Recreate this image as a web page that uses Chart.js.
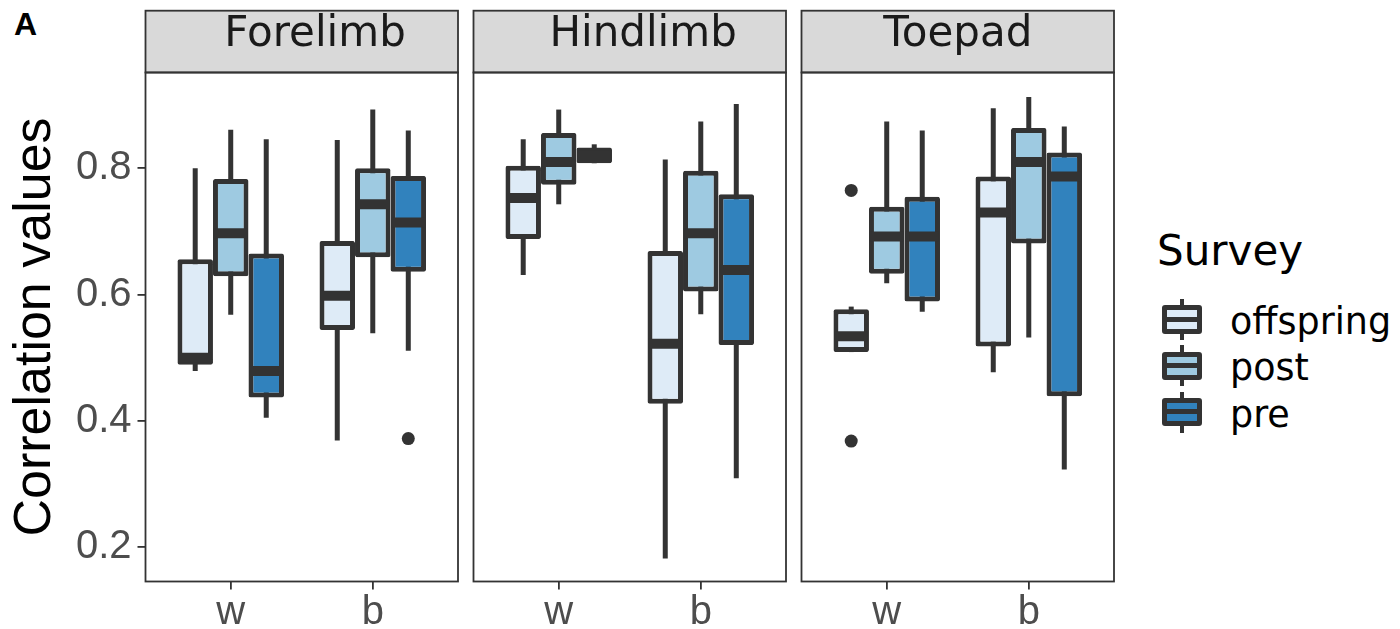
<!DOCTYPE html>
<html>
<head>
<meta charset="utf-8">
<script src="https://cdn.jsdelivr.net/npm/chart.js@4.4.0/dist/chart.umd.min.js"></script>
<style>
  body { margin:0; width:1400px; height:629px; background:#fff; position:relative; overflow:hidden; }
  canvas { position:absolute; top:0; }
  #tag { position:absolute; left:14px; top:8px; font:bold 32px/1 "Liberation Sans", Arial, sans-serif; color:#000; }
  #legend { position:absolute; left:0; top:0; font-family:"DejaVu Sans", sans-serif; color:#000; }
  #legend .title { position:absolute; left:1157px; top:229.5px; font-size:42px; line-height:1; white-space:nowrap; }
  #legend .lab { position:absolute; left:1230px; font-size:36.5px; line-height:1; white-space:nowrap; }
  .key { position:absolute; left:1161.5px; width:40px; height:41px; }
  .key .wh { position:absolute; left:18px; top:0; width:4px; height:41px; background:#333; }
  .key .bx { position:absolute; left:0; top:6.25px; width:40px; height:28.5px; box-sizing:border-box; border:5.5px solid #333; border-radius:3px; }
  .key .md { position:absolute; left:0; right:0; top:6.25px; height:5px; background:#333; }
</style>
</head>
<body>
<div id="tag">A</div>
<canvas id="c0" width="470" height="629" style="left:0px"></canvas>
<canvas id="c1" width="333" height="629" style="left:463px"></canvas>
<canvas id="c2" width="333" height="629" style="left:791px"></canvas>
<div id="legend"></div>
<script>
// facets, groups and x categories
const panels = ['  Forelimb', '  Hindlimb', 'Toepad'];
const surveys = ['offspring', 'post', 'pre'];
const sites = ['w', 'b'];
const sitePos = [1, 2];
const yTicks = [0.2, 0.4, 0.6, 0.8];
const fills = ['#DEEBF7', '#9ECAE1', '#3182BD'];

// box stats per site [w, b]: [lower whisker, q1, median, q3, upper whisker]
const foreOffspring = [[0.479, 0.489, 0.500, 0.656, 0.800], [0.369, 0.544, 0.598, 0.685, 0.845]];
const forePost      = [[0.568, 0.629, 0.697, 0.783, 0.861], [0.539, 0.659, 0.743, 0.800, 0.893]];
const forePre       = [[0.405, 0.437, 0.479, 0.665, 0.846], [0.511, 0.636, 0.714, 0.788, 0.860]];
const hindOffspring = [[0.631, 0.688, 0.753, 0.804, 0.846], [0.182, 0.427, 0.522, 0.669, 0.814]];
const hindPost      = [[0.743, 0.774, 0.810, 0.856, 0.893], [0.569, 0.605, 0.697, 0.796, 0.874]];
const hindPre       = [[0.808, 0.808, 0.820, 0.833, 0.838], [0.309, 0.520, 0.639, 0.759, 0.902]];
const toeOffspring  = [[0.509, 0.509, 0.534, 0.577, 0.581], [0.477, 0.518, 0.730, 0.787, 0.895]];
const toePost       = [[0.618, 0.633, 0.692, 0.739, 0.874], [0.532, 0.681, 0.810, 0.864, 0.913]];
const toePre        = [[0.573, 0.589, 0.692, 0.755, 0.860], [0.323, 0.439, 0.787, 0.825, 0.866]];

// outliers, [survey][site]
const foreOutliers = [[[], []], [[], []], [[], [0.372]]];
const hindOutliers = [[[], []], [[], []], [[], []]];
const toeOutliers  = [[[0.765, 0.368], []], [[], []], [[], []]];

const panelStats = [
  [foreOffspring, forePost, forePre],
  [hindOffspring, hindPost, hindPre],
  [toeOffspring, toePost, toePre]
];
const panelOutliers = [foreOutliers, hindOutliers, toeOutliers];

const yMin = 0.1457, yMax = 0.9517;
const stripTop = 10.7;
const dark = '#333333';

// strip box, whiskers, medians, outliers and panel frame
const boxParts = {
  id: 'boxParts',
  beforeDraw(chart) {
    const a = chart.chartArea, ctx = chart.ctx;
    ctx.save();
    ctx.fillStyle = '#D9D9D9';
    ctx.fillRect(a.left, stripTop, a.right - a.left, a.top - stripTop);
    ctx.strokeStyle = dark;
    ctx.lineWidth = 1.8;
    ctx.strokeRect(a.left, stripTop, a.right - a.left, a.top - stripTop);
    ctx.restore();
  },
  beforeDatasetsDraw(chart) {
    const ctx = chart.ctx, y = chart.scales.y;
    ctx.save();
    ctx.strokeStyle = dark;
    ctx.lineWidth = 5;
    chart.data.datasets.forEach((ds, i) => {
      chart.getDatasetMeta(i).data.forEach((bar, j) => {
        const s = ds.stats[j];
        ctx.beginPath();
        ctx.moveTo(bar.x, y.getPixelForValue(s[0]));
        ctx.lineTo(bar.x, y.getPixelForValue(s[4]));
        ctx.stroke();
      });
    });
    ctx.restore();
  },
  afterDatasetsDraw(chart) {
    const ctx = chart.ctx, y = chart.scales.y, a = chart.chartArea;
    ctx.save();
    ctx.strokeStyle = dark;
    ctx.fillStyle = dark;
    chart.data.datasets.forEach((ds, i) => {
      chart.getDatasetMeta(i).data.forEach((bar, j) => {
        const s = ds.stats[j];
        const half = bar.width / 2 - 1;
        ctx.lineWidth = 10;
        ctx.beginPath();
        ctx.moveTo(bar.x - half, y.getPixelForValue(s[2]));
        ctx.lineTo(bar.x + half, y.getPixelForValue(s[2]));
        ctx.stroke();
        ds.outliers[j].forEach(v => {
          ctx.beginPath();
          ctx.arc(bar.x, y.getPixelForValue(v), 6.5, 0, Math.PI * 2);
          ctx.fill();
        });
      });
    });
    ctx.lineWidth = 1.8;
    ctx.strokeRect(a.left, a.top, a.right - a.left, a.bottom - a.top);
    ctx.restore();
  }
};

function makePanel(p) {
  const first = p === 0;
  const datasets = surveys.map((name, k) => ({
    label: name,
    data: sitePos.map((x, j) => ({ x: x, y: [panelStats[p][k][j][1], panelStats[p][k][j][3]] })),
    stats: panelStats[p][k],
    outliers: panelOutliers[p][k],
    backgroundColor: fills[k],
    borderColor: dark,
    borderWidth: 5,
    borderSkipped: false,
    borderRadius: 2,
    categoryPercentage: 0.75,
    barPercentage: 1
  }));
  return new Chart(document.getElementById('c' + p), {
    type: 'bar',
    data: { datasets: datasets },
    plugins: [boxParts],
    options: {
      responsive: false,
      animation: false,
      devicePixelRatio: 1,
      layout: { padding: first ? { left: 0, right: 12, top: 9.5, bottom: 0 } : { left: 10.5, right: 10, top: 9.5, bottom: 0 } },
      plugins: {
        legend: { display: false },
        tooltip: { enabled: false },
        title: {
          display: true,
          text: panels[p],
          fullSize: false,
          color: '#1A1A1A',
          font: { family: 'DejaVu Sans', size: 42, weight: 'normal', lineHeight: 1.2 },
          padding: { top: 0, bottom: 12.6 }
        }
      },
      scales: {
        x: {
          type: 'linear',
          min: 0.4,
          max: 2.6,
          offset: false,
          afterBuildTicks: s => { s.ticks = sitePos.map(v => ({ value: v })); },
          afterFit: s => { s.height = 47.5; },
          ticks: {
            callback: (v, i) => sites[i],
            color: '#4D4D4D',
            padding: 1,
            maxRotation: 0,
            font: { family: 'Liberation Sans', size: 40, lineHeight: 1.1 }
          },
          grid: { display: true, offset: false, drawOnChartArea: false, drawTicks: true, tickLength: 8, color: dark, lineWidth: 1.8 },
          border: { display: false }
        },
        y: {
          display: first,
          min: yMin,
          max: yMax,
          beginAtZero: false,
          afterBuildTicks: s => { s.ticks = yTicks.map(v => ({ value: v })); },
          afterFit: s => { s.width = first ? 145.5 : 0; },
          ticks: {
            callback: v => v.toFixed(1),
            color: '#4D4D4D',
            padding: 6,
            font: { family: 'Liberation Sans', size: 40, lineHeight: 1.2 }
          },
          grid: { display: true, drawOnChartArea: false, drawTicks: true, tickLength: 8, color: dark, lineWidth: 1.8 },
          border: { display: false },
          title: {
            display: true,
            text: 'Correlation values',
            color: '#000',
            font: { family: 'Liberation Sans', size: 52, lineHeight: 1.2 },
            padding: { top: 4, bottom: 0 }
          }
        }
      }
    }
  });
}

panels.forEach((name, p) => makePanel(p));

// legend: title, keys and labels
const legend = document.getElementById('legend');
const keyCentres = [319.5, 365.8, 412.1];
let html = '<div class="title">Survey</div>';
surveys.forEach((name, k) => {
  const c = keyCentres[k];
  html += '<div class="key" style="top:' + (c - 20.5) + 'px"><div class="wh"></div>' +
          '<div class="bx" style="background:' + fills[k] + '"><div class="md"></div></div></div>';
  html += '<div class="lab" style="top:' + (c + 15.5 - 30.9) + 'px">' + name + '</div>';
});
legend.innerHTML = html;
</script>
</body>
</html>
